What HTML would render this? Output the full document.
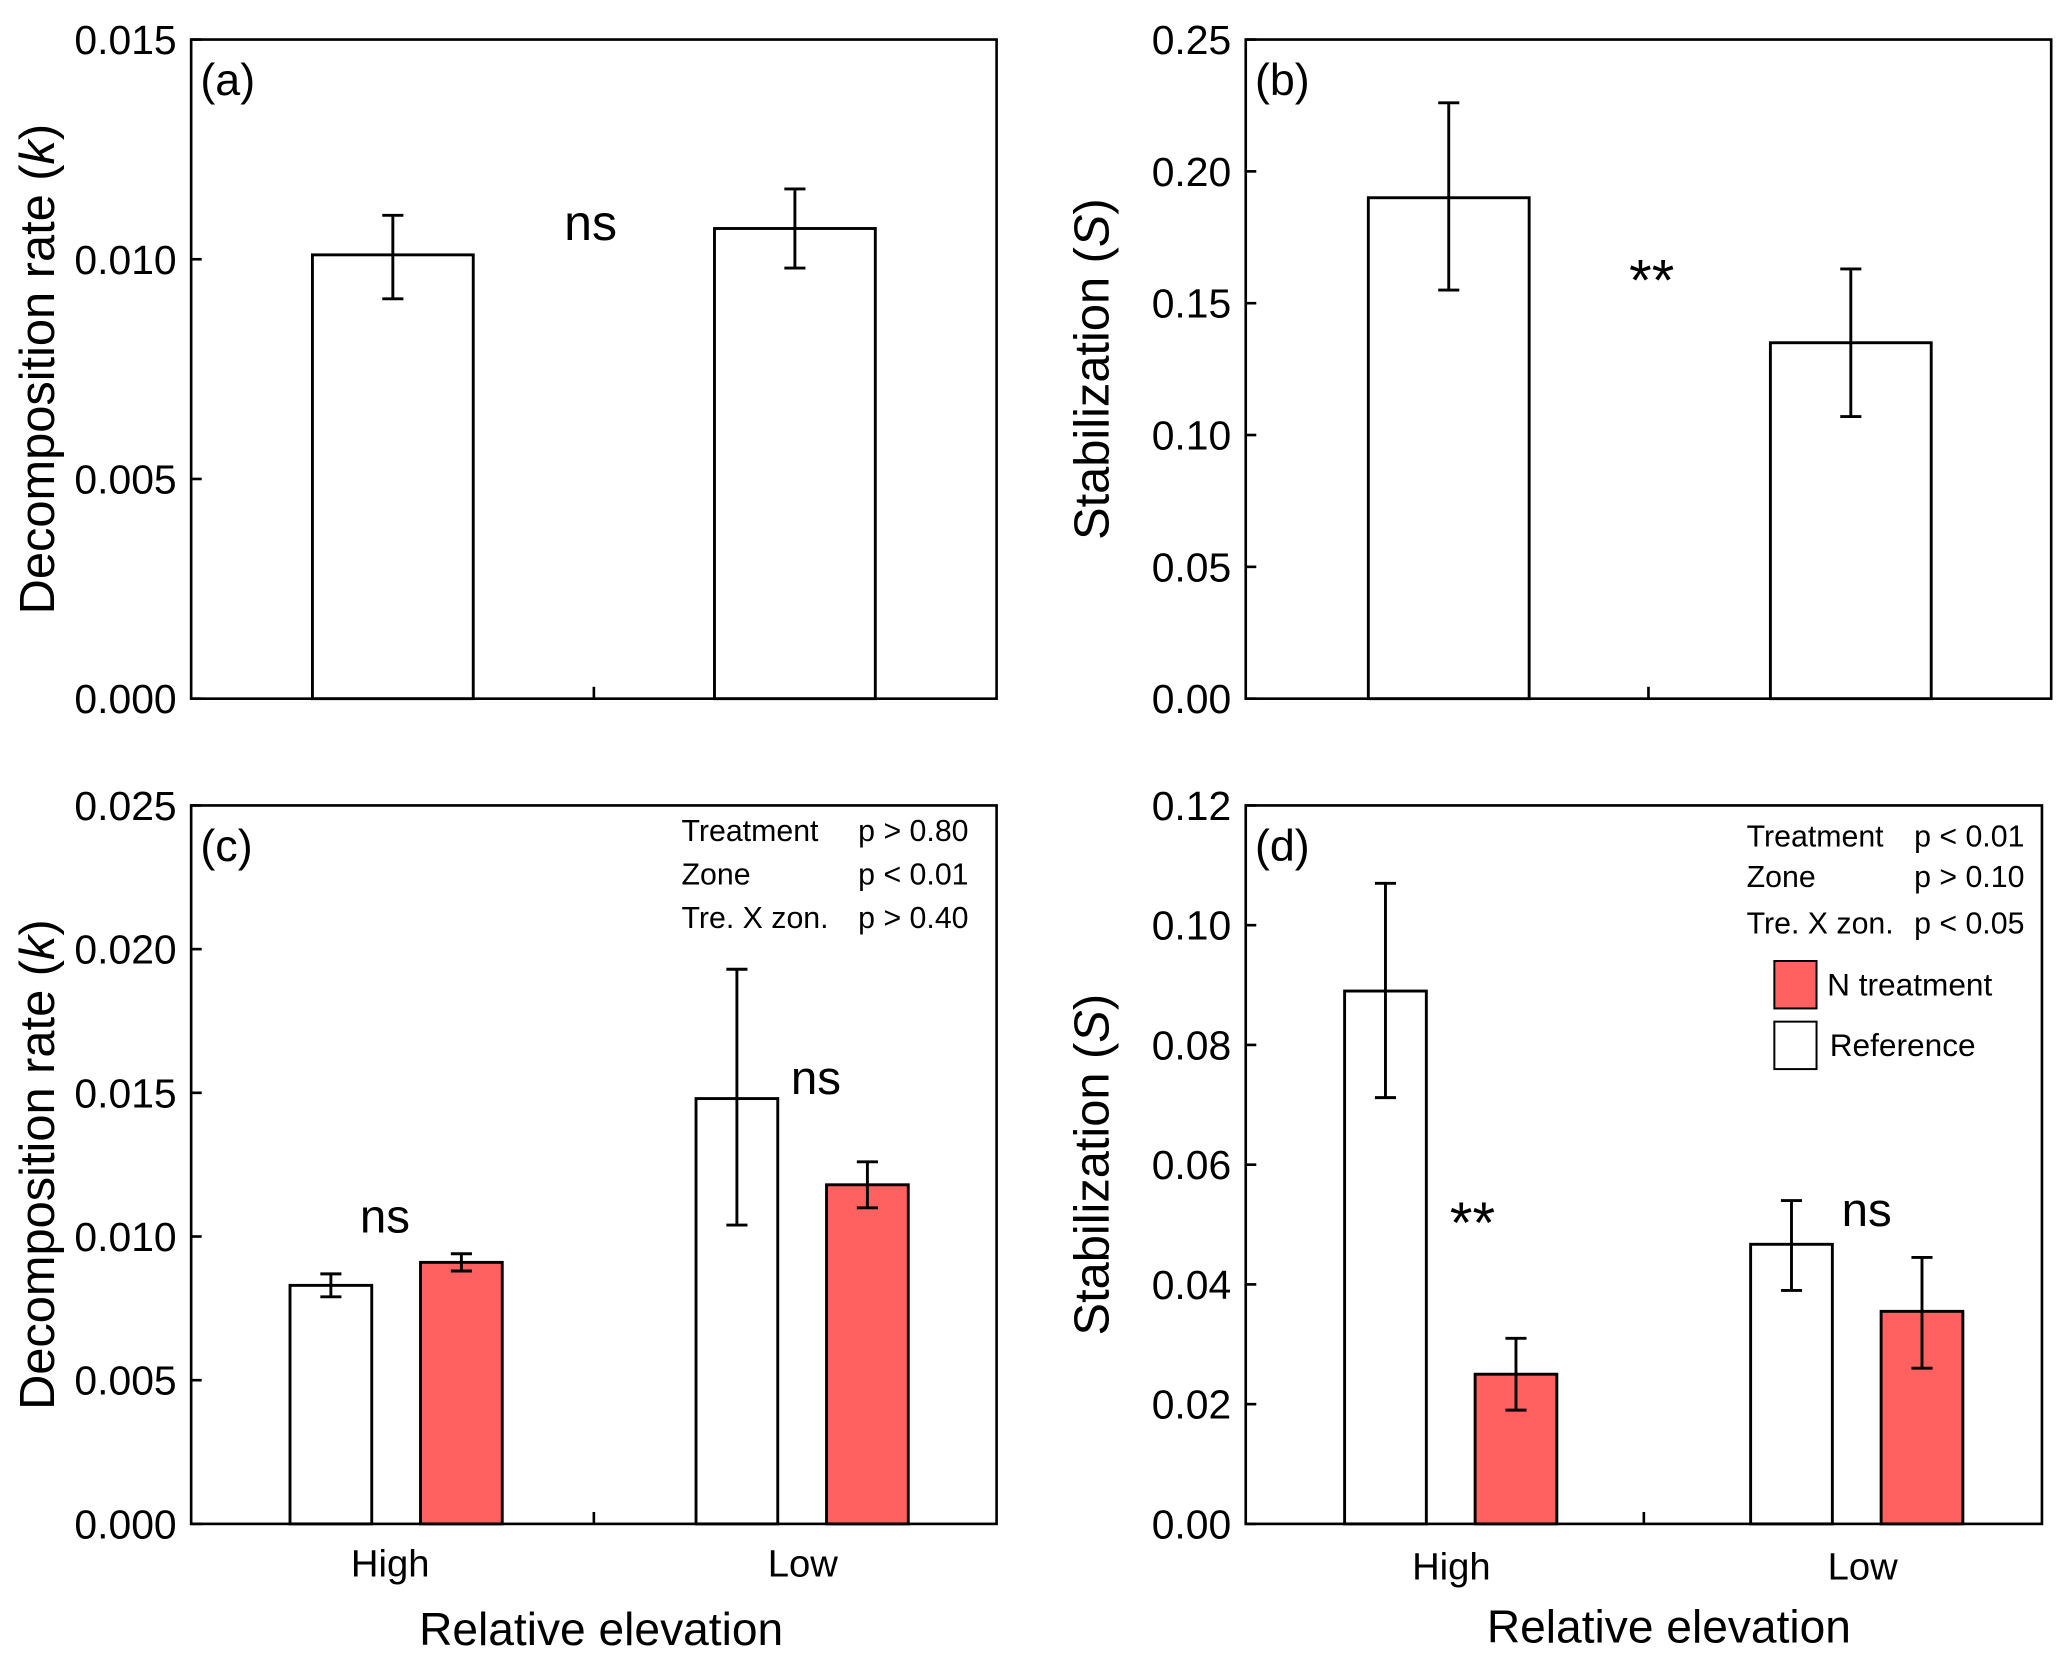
<!DOCTYPE html>
<html><head><meta charset="utf-8"><style>
html,body{margin:0;padding:0;background:#fff}
svg{display:block}
text{font-family:"Liberation Sans","DejaVu Sans",sans-serif;fill:#000}
</style></head><body>
<svg id="fig" width="2067" height="1654" viewBox="0 0 1568 1254.7" xmlns="http://www.w3.org/2000/svg"></svg>
<script>
// Panel (a)
const aCats = ["High","Low"];
const aVals = [0.0101, 0.0107];
const aErrLo = [0.0091, 0.0098];
const aErrHi = [0.0110, 0.0116];
const aTicks = ["0.000","0.005","0.010","0.015"];
// Panel (b)
const bVals = [0.190, 0.135];
const bErrLo = [0.155, 0.107];
const bErrHi = [0.226, 0.163];
const bTicks = ["0.00","0.05","0.10","0.15","0.20","0.25"];
// Panel (c)
const cCats = ["High","Low"];
const cRef = [0.0083, 0.0148];
const cRefLo = [0.0079, 0.0104];
const cRefHi = [0.0087, 0.0193];
const cN = [0.0091, 0.0118];
const cNLo = [0.0088, 0.0110];
const cNHi = [0.0094, 0.0126];
const cTicks = ["0.000","0.005","0.010","0.015","0.020","0.025"];
// Panel (d)
const dRef = [0.089, 0.0467];
const dRefLo = [0.0712, 0.039];
const dRefHi = [0.107, 0.054];
const dN = [0.025, 0.0355];
const dNLo = [0.019, 0.026];
const dNHi = [0.031, 0.0445];
const dTicks = ["0.00","0.02","0.04","0.06","0.08","0.10","0.12"];

const NS="http://www.w3.org/2000/svg";
const svg=document.getElementById('fig');
function mk(tag,attrs,parent){const e=document.createElementNS(NS,tag);for(const k in attrs)e.setAttribute(k,attrs[k]);(parent||svg).appendChild(e);return e;}
function txt(s,x,y,size,anchor,parent){const t=mk('text',{x:x,y:y,'font-size':size,'text-anchor':anchor||'middle'},parent);t.textContent=s;return t;}

function panel(name,x0,x1,y0,y1,ticks,ymax,label,title){
  const g=mk('g',{});
  
  
  const ys=v=>y1-(v/ymax)*(y1-y0);
  const frame=mk('rect',{x:x0,y:y0,width:x1-x0,height:y1-y0,fill:'none',stroke:'#000','stroke-width':2},g);
  
  
  ticks.forEach((t,i)=>{
    const v=ymax*i/(ticks.length-1);const y=ys(v);
    mk('line',{x1:x0,x2:x0+8,y1:y,y2:y,stroke:'#000','stroke-width':2},g);
    const tl=txt(t,x0-11,y+11,31,'end',g);
    
    
  });
  const xm=(x0+x1)/2;
  mk('line',{x1:xm,x2:xm,y1:y1,y2:y1-9,stroke:'#000','stroke-width':2},g);
  const lb=txt(label,x0+7,y0+42,34,'start',g);
  
  
  const cy=(y0+y1)/2;const tx=x0-104;
  const tt=mk('text',{x:tx,y:cy,'font-size':37,'text-anchor':'middle',transform:`rotate(-90 ${tx} ${cy})`},g);
  
  
  tt.innerHTML=title;
  return {g,ys};
}
function bar(p,x,w,v,lo,hi,fill,name){
  const y=p.ys(v);
  const r=mk('rect',{x:x,y:y,width:w,height:p.ys(0)-y,fill:fill,stroke:'#000','stroke-width':2.2},p.g);
  
  
  const cx=x+w/2;
  const eb=mk('path',{d:`M${cx},${p.ys(lo)}V${p.ys(hi)}M${cx-8},${p.ys(lo)}H${cx+8}M${cx-8},${p.ys(hi)}H${cx+8}`,stroke:'#000','stroke-width':2.2,fill:'none'},p.g);
  
  
}
const RED='#ff6161';
// a
const pa=panel('panel-a',145,756,30,530,aTicks,0.015,'(a)','Decomposition rate (<tspan font-style="italic">k</tspan>)');
[237,542].forEach((x,i)=>bar(pa,x,122,aVals[i],aErrLo[i],aErrHi[i],'#fff','bar-a-'+aCats[i].toLowerCase()));
let s=txt('ns',448,182,38,'middle',pa.g);
// b
const pb=panel('panel-b',945,1556,30,530,bTicks,0.25,'(b)','Stabilization (<tspan font-style="italic">S</tspan>)');
[1038,1343].forEach((x,i)=>bar(pb,x,122,bVals[i],bErrLo[i],bErrHi[i],'#fff','bar-b-'+aCats[i].toLowerCase()));
s=txt('**',1253,228,44,'middle',pb.g);
// c
const pc=panel('panel-c',145,756,611,1156,cTicks,0.025,'(c)','Decomposition rate (<tspan font-style="italic">k</tspan>)');
[220,528].forEach((x,i)=>{bar(pc,x,62,cRef[i],cRefLo[i],cRefHi[i],'#fff','bar-c-ref-'+cCats[i].toLowerCase());bar(pc,x+99,62,cN[i],cNLo[i],cNHi[i],RED,'bar-c-n-'+cCats[i].toLowerCase());});
s=txt('ns',292,935,36,'middle',pc.g);
s=txt('ns',619,830,36,'middle',pc.g);
[['Treatment','p > 0.80',638],['Zone','p < 0.01',671],['Tre. X zon.','p > 0.40',704]].forEach(r=>{
  let a=txt(r[0],517,r[2],23,'start',pc.g);
  let b=txt(r[1],651,r[2],23,'start',pc.g);
});
s=txt('High',296,1196,29,'middle',pc.g);
s=txt('Low',609,1196,29,'middle',pc.g);
s=txt('Relative elevation',456,1248,35,'middle',pc.g);
// d
const pd=panel('panel-d',945,1549,611,1156,dTicks,0.12,'(d)','Stabilization (<tspan font-style="italic">S</tspan>)');
[1020,1328].forEach((x,i)=>{bar(pd,x,62,dRef[i],dRefLo[i],dRefHi[i],'#fff','bar-d-ref-'+cCats[i].toLowerCase());bar(pd,x+99,62,dN[i],dNLo[i],dNHi[i],RED,'bar-d-n-'+cCats[i].toLowerCase());});
s=txt('**',1117,943,44,'middle',pd.g);
s=txt('ns',1416,930,36,'middle',pd.g);
[['Treatment','p < 0.01',642],['Zone','p > 0.10',673],['Tre. X zon.','p < 0.05',708]].forEach(r=>{
  let a=txt(r[0],1325,r[2],23,'start',pd.g);
  let b=txt(r[1],1452,r[2],23,'start',pd.g);
});
let sw=mk('rect',{x:1346,y:729,width:32,height:36,fill:RED,stroke:'#000','stroke-width':1.5},pd.g);

sw=mk('rect',{x:1346,y:775,width:32,height:36,fill:'#fff',stroke:'#000','stroke-width':1.5},pd.g);

s=txt('N treatment',1386,755,24,'start',pd.g);
s=txt('Reference',1388,801,24,'start',pd.g);
s=txt('High',1101,1198,29,'middle',pd.g);
s=txt('Low',1413,1198,29,'middle',pd.g);
s=txt('Relative elevation',1266,1246,35,'middle',pd.g);
</script>
</body></html>
